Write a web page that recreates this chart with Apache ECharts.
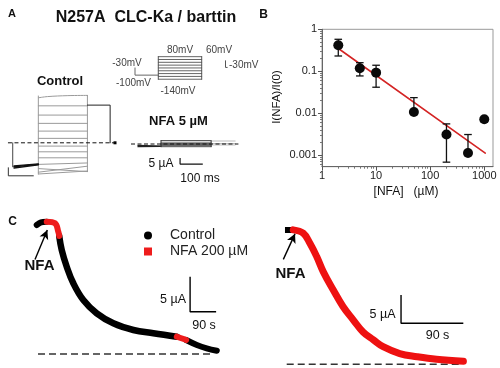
<!DOCTYPE html>
<html><head><meta charset="utf-8">
<script src="https://cdn.jsdelivr.net/npm/echarts@6/dist/echarts.min.js"></script>
<style>html,body{margin:0;padding:0;background:#fff}#c{width:500px;height:368px}</style>
</head><body><div id="c"></div>
<script>
// ================= DATA =================
// ---- Panel B: dose-response (log-log) ----
const nfaConc = [2, 5, 10, 50, 200, 500, 1000];                 // µM
const ratio   = [0.416, 0.118, 0.0926, 0.0107, 0.0031, 0.00112, 0.0072];
const errHigh = [0.578, 0.160, 0.139, 0.0235, 0.00556, 0.0031, 0.0078];
const errLow  = [0.231, 0.0773, 0.0416, null, 0.00068, null, 0.0062];
const fitConc  = [2.1, 1043];
const fitRatio = [0.334, 0.00112];
const xTicks = [1, 10, 100, 1000];
const yTicks = [0.001, 0.01, 0.1, 1];
const xTickLabels = ['1', '10', '100', '1000'];
const yTickLabels = ['0.001', '0.01', '0.1', '1'];

// ---- Panel A: voltage protocol (ms, mV) ----
const protoLevels = [-140, -112.5, -85, -57.5, -30, -2.5, 25, 52.5, 80];
const protoPulse  = [141.5, 358.5];
const protoHold   = [[25, -30], [25, -100], [141.5, -100]];
const protoTail   = [[477.5, 40], [477.5, -25], [486, -25]];

// ---- Panel A: control currents (ms, µA) ----
const ctrlPulse = [168.7, 384.6];
const ctrlStepStart = [37.5, 30.8, 23.1, 16.2, 9.75, 3.7, -2.75, -7.5, -12.5, -18, -21.5, -24.5, -26];
const ctrlStepEnd   = [39.5, 30.8, 23.1, 16.2, 9.75, 3.7, -2.75, -7.5, -12.5, -16.8, -24, -19.5, -23.5];
const ctrlTail  = [[384.6, 31.4], [484.6, 31.4], [484.6, 0]];
const ctrlPre   = [[56, 0], [56, -20]];
const ctrlPreTraces = [[[61.7, -20], [168.7, -18]], [[61.7, -19.2], [168.7, -17.6]], [[61.7, -21], [168.7, -18.4]]];
const ctrlCorner = [[36.7, -20.8], [36.7, -27.5], [146.7, -27.5]];
const ctrlZero  = [[35, 0], [506, 0]];

// ---- Panel A: NFA 5 µM currents (ms, µA) ----
const nfaPulse = [158.6, 378.9];
const nfaStepLevels = [2.75, 0.9, 0.3, -0.3, -0.9, -1.5, -2.25];
const nfaTailEnd = 484.6;
const nfaTailLevels = [2.5, 0.4, -0.8];
const nfaPreTraces = [[[57, -1.2], [158.6, -1.8]], [[57, -2.2], [158.6, -2.0]]];
const nfaZero = [[26.4, 0], [499, 0]];
const nfaScaleBar = {t0: 242.3, i0: -16.7, dt: 100, di: 5};

// ---- Panel C left: Control + NFA 200 µM (s, µA) ----
const c1Head  = [[23.2, 18.43], [38, 18.79], [57.8, 18.9]];
const c1Red1  = [[57.8, 18.9], [86.5, 18.67], [97.9, 17.47], [101, 16.86]];
const c1Main  = [[101, 16.86], [109.7, 14.86], [127, 12.47], [149.8, 10.1], [184.4, 7.71],
                 [230.8, 5.81], [288.2, 4.39], [357.4, 3.43], [426.6, 2.96], [507.6, 2.47]];
const c1Red2  = [[507.6, 2.47], [526, 2.21], [540, 2.0]];
const c1Tail  = [[540, 2.0], [577, 1.29], [611, 0.81], [646, 0.47]];
const c1Zero  = [[27.7, 0], [629, 0]];
const c1Arrow = [[17.3, 13.5], [59.9, 17.7]];
const c1ScaleBar = {t0: 553.6, i0: 6.04, dt: 90, di: 5};

// ---- Panel C right: NFA 200 µM (s, µA) ----
const c2Head = [[7.2, 23.7], [19.2, 23.7]];
const c2Red  = [[19.2, 23.7], [33.7, 23.1], [43.4, 21.3], [53, 19.0], [62.6, 16.3], [77, 13.1],
                [91, 10.2], [106, 7.8], [120, 5.7], [135, 4.3], [149, 3.1], [173, 1.9],
                [198, 1.34], [226, 0.88], [265, 0.53]];
const c2Zero  = [[9.7, 0], [260, 0]];
const c2Arrow = [[4.8, 18.5], [21.7, 23.0]];
const c2ScaleBar = {t0: 174.9, i0: 7.23, dt: 90, di: 5};

// ================= CHART =================
const FONT = '"Liberation Sans", Arial, sans-serif';
const chart = echarts.init(document.getElementById('c'), null, {renderer: 'canvas'});

function hx(grid, min, max) { return {type: 'value', gridIndex: grid, min, max, show: false}; }
function ln(ax, data, color, width, extra) {
  return Object.assign({
    type: 'line', xAxisIndex: ax, yAxisIndex: ax, data, symbol: 'none', showSymbol: false,
    silent: true, animation: false,
    lineStyle: {color, width, cap: 'round', join: 'round'}
  }, extra || {});
}
function bar(sb) { return [[sb.t0, sb.i0 + sb.di], [sb.t0, sb.i0], [sb.t0 + sb.dt, sb.i0]]; }
function arrowLine(ax, pts) {
  return {type: 'line', xAxisIndex: ax, yAxisIndex: ax, data: [], silent: true, animation: false,
    markLine: {silent: true, animation: false, symbol: ['none', 'arrow'], symbolSize: [7, 9],
      label: {show: false}, lineStyle: {color: '#000', width: 1.4, type: 'solid'},
      data: [[{coord: pts[0]}, {coord: pts[1]}]]}};
}

const minorX = [], minorY = [];
[1, 10, 100].forEach(d => { for (let k = 2; k <= 9; k++) minorX.push(d * k); });
[0.0001, 0.001, 0.01, 0.1].forEach(d => { for (let k = 2; k <= 9; k++) { const v = d * k; if (v > 0.00053 && v < 1) minorY.push(v); } });

const series = [];
// --- protocol (axis 1)
series.push(ln(1, protoHold, '#666', 1));
protoLevels.forEach(v => series.push(ln(1, [[protoPulse[0], v], [protoPulse[1], v]], '#666', 1)));
series.push(ln(1, [[protoPulse[0], protoLevels[0]], [protoPulse[0], protoLevels[protoLevels.length - 1]]], '#555', 1));
series.push(ln(1, [[protoPulse[1], protoLevels[0]], [protoPulse[1], protoLevels[protoLevels.length - 1]]], '#555', 1));
series.push(ln(1, protoTail, '#555', 1));
// --- control currents (axis 0)
ctrlStepStart.forEach((s, i) => {
  const e = ctrlStepEnd[i];
  const d = i === 0 ? [[ctrlPulse[0], s], [ctrlPulse[0] + 40, s + 1], [ctrlPulse[0] + 130, e - 0.2], [ctrlPulse[1], e]]
                    : [[ctrlPulse[0], s], [ctrlPulse[1], e]];
  series.push(ln(0, d, '#9a9a9a', 1, {smooth: i === 0 ? 0.4 : false}));
});
series.push(ln(0, [[ctrlPulse[0], -26], [ctrlPulse[0], 39]], '#999', 1));
series.push(ln(0, [[ctrlPulse[1], -24], [ctrlPulse[1], 39.5]], '#999', 1));
series.push(ln(0, ctrlTail, '#222', 1));
series.push(ln(0, ctrlPre, '#444', 1));
ctrlPreTraces.forEach(d => series.push(ln(0, d, '#111', 1.4)));
series.push(ln(0, ctrlCorner, '#333', 1));
series.push(ln(0, ctrlZero, '#111', 1, {lineStyle: {color: '#111', width: 1, type: [4, 2.5]}}));
series.push({type: 'scatter', xAxisIndex: 0, yAxisIndex: 0, data: [ctrlZero[1]], symbol: 'rect', symbolSize: 3,
  itemStyle: {color: '#000', opacity: 1}, silent: true, animation: false});
// --- NFA 5 µM currents (axis 2)
nfaPreTraces.forEach(d => series.push(ln(2, d, '#222', 1.2)));
nfaStepLevels.forEach((v, i) => series.push(ln(2, [[nfaPulse[0], v], [nfaPulse[1], v]], i === 0 ? '#333' : '#555', 1)));
nfaTailLevels.forEach(v => series.push(ln(2, [[nfaPulse[1], v], [nfaTailEnd, v]], '#bbb', 1)));
series.push(ln(2, [[nfaPulse[0], -2.25], [nfaPulse[0], 2.75]], '#333', 1));
series.push(ln(2, [[nfaPulse[1], -2.25], [nfaPulse[1], 2.75]], '#333', 1));
series.push(ln(2, nfaZero, '#111', 1, {lineStyle: {color: '#111', width: 1, type: [4, 2.5]}}));
series.push(ln(2, bar(nfaScaleBar), '#111', 1.2, {lineStyle: {color: '#111', width: 1.2, cap: 'butt'}}));
// --- Panel B (axis 3)
series.push(ln(3, fitConc.map((c, i) => [c, fitRatio[i]]), '#d42424', 1.6, {z: 2}));
series.push({type: 'custom', xAxisIndex: 3, yAxisIndex: 3, silent: true, animation: false, z: 3,
  data: nfaConc.map((c, i) => [c, errLow[i] == null ? ratio[i] : errLow[i], errHigh[i] == null ? ratio[i] : errHigh[i],
                               errLow[i] == null ? 0 : 1, errHigh[i] == null ? 0 : 1]),
  renderItem(params, api) {
    const x = api.value(0);
    const lo = api.coord([x, api.value(1)]), hi = api.coord([x, api.value(2)]);
    const w = 3.8, st = {stroke: '#111', lineWidth: 1.3};
    const ch = [{type: 'line', shape: {x1: lo[0], y1: lo[1], x2: hi[0], y2: hi[1]}, style: st}];
    if (api.value(3)) ch.push({type: 'line', shape: {x1: lo[0] - w, y1: lo[1], x2: lo[0] + w, y2: lo[1]}, style: st});
    if (api.value(4)) ch.push({type: 'line', shape: {x1: hi[0] - w, y1: hi[1], x2: hi[0] + w, y2: hi[1]}, style: st});
    return {type: 'group', children: ch};
  }});
series.push({type: 'scatter', xAxisIndex: 3, yAxisIndex: 3, z: 4, silent: true, animation: false,
  data: nfaConc.map((c, i) => [c, ratio[i]]), symbol: 'circle', symbolSize: 10,
  itemStyle: {color: '#0a0a0a', opacity: 1, borderWidth: 0}});
// --- Panel C left (axis 5)
series.push(ln(5, c1Zero, '#333', 1.5, {lineStyle: {color: '#333', width: 1.5, type: [7, 4]}}));
series.push(ln(5, c1Head, '#000', 6, {name: 'Control', smooth: 0.3}));
series.push(ln(5, c1Main, '#000', 6.5, {name: 'Control', smooth: 0.4}));
series.push(ln(5, c1Tail, '#000', 6, {name: 'Control', smooth: 0.4}));
series.push(ln(5, c1Red1, '#ee1c1c', 6, {name: 'NFA 200 µM', smooth: 0.4}));
series.push(ln(5, c1Red2, '#ee1c1c', 6, {name: 'NFA 200 µM', smooth: 0.3}));
series.push(ln(5, bar(c1ScaleBar), '#000', 1.4, {lineStyle: {color: '#000', width: 1.4, cap: 'butt'}}));
series.push(arrowLine(5, c1Arrow));
// --- Panel C right (axis 6)
series.push(ln(6, c2Zero, '#333', 1.5, {lineStyle: {color: '#333', width: 1.5, type: [7, 4]}}));
series.push(ln(6, c2Head, '#000', 6, {lineStyle: {color: '#000', width: 6, cap: 'butt'}}));
series.push(ln(6, c2Red, '#ee1111', 7, {smooth: 0.4}));
series.push(ln(6, bar(c2ScaleBar), '#000', 1.4, {lineStyle: {color: '#000', width: 1.4, cap: 'butt'}}));
series.push(arrowLine(6, c2Arrow));

function T(text, x, y, size, opts) {
  const o = opts || {};
  return {type: 'text', x, y, rotation: o.rot || 0, silent: true, z: 10,
    style: {text, fill: o.color || '#111', fontSize: size, fontWeight: o.bold ? 'bold' : 'normal', fontFamily: FONT,
      align: o.align || 'center', verticalAlign: 'middle'}};
}

const option = {
  animation: false,
  textStyle: {fontFamily: FONT},
  grid: [
    {left: 0, top: 90, width: 125, height: 90, outerBoundsMode: 'none'},
    {left: 130, top: 50, width: 120, height: 40, outerBoundsMode: 'none'},
    {left: 125, top: 120, width: 125, height: 60, outerBoundsMode: 'none'},
    {left: 322, top: 29.3, width: 171, height: 137.4, show: true, borderColor: '#999', borderWidth: 1, outerBoundsMode: 'none'},
    {left: 30, top: 214, width: 190, height: 147, outerBoundsMode: 'none'},
    {left: 280, top: 214, width: 200, height: 153.7, outerBoundsMode: 'none'}
  ],
  xAxis: [
    hx(0, 0, 550), hx(1, 0, 600), hx(2, 0, 550),
    {type: 'log', gridIndex: 3, min: 1, max: 1450, position: 'bottom',
      axisLine: {show: true, lineStyle: {color: '#666', width: 1}},
      axisTick: {show: true, length: 4, customValues: xTicks, lineStyle: {color: '#555'}},
      axisLabel: {customValues: xTicks, color: '#222', fontSize: 11, margin: 4,
        formatter: v => xTickLabels[Math.round(Math.log10(v))]},
      splitLine: {show: false}, minorTick: {show: false}},
    {type: 'log', gridIndex: 3, min: 1, max: 1450, position: 'bottom',
      axisLine: {show: false}, axisLabel: {show: false}, splitLine: {show: false},
      axisTick: {show: true, length: 2, customValues: minorX, lineStyle: {color: '#777'}}},
    hx(4, 0, 657), hx(5, 0, 289)
  ],
  yAxis: [
    hx(0, -31, 44), hx(1, -245, 145), hx(2, -30, 20),
    {type: 'log', gridIndex: 3, min: 0.00053, max: 1, position: 'left',
      axisLine: {show: true, lineStyle: {color: '#666', width: 1}},
      axisTick: {show: true, length: 4, customValues: yTicks, lineStyle: {color: '#555'}},
      axisLabel: {customValues: yTicks, color: '#222', fontSize: 11, margin: 5,
        formatter: v => yTickLabels[Math.round(Math.log10(v)) + 3]},
      splitLine: {show: false}},
    {type: 'log', gridIndex: 3, min: 0.00053, max: 1, position: 'left',
      axisLine: {show: false}, axisLabel: {show: false}, splitLine: {show: false},
      axisTick: {show: true, length: 2, customValues: minorY, lineStyle: {color: '#777'}}},
    hx(4, -1, 20), hx(5, -0.6, 26.5)
  ],
  legend: {
    left: 139, top: 223.5, orient: 'vertical', itemGap: 2, itemWidth: 8, itemHeight: 8,
    selectedMode: false,
    textStyle: {fontSize: 14, color: '#222', fontFamily: FONT, padding: [0, 0, 0, 13]},
    data: [
      {name: 'Control', icon: 'circle', itemStyle: {color: '#000', borderWidth: 0}},
      {name: 'NFA 200 µM', icon: 'rect', itemStyle: {color: '#ee1c1c', borderWidth: 0}}
    ]
  },
  graphic: [
    T('A', 12, 14, 11, {bold: true}),
    T('N257A  CLC-Ka / barttin', 146, 18, 16, {bold: true}),
    T('B', 263.5, 14.5, 12, {bold: true}),
    T('C', 12.7, 221.7, 12, {bold: true}),
    T('Control', 60, 81, 13, {bold: true}),
    T('NFA 5 µM', 178.5, 121, 13, {bold: true}),
    T('-30mV', 127, 63.3, 10, {color: '#444'}),
    T('-100mV', 133.5, 83.5, 10, {color: '#444'}),
    T('80mV', 180, 50, 10, {color: '#444'}),
    T('60mV', 219, 50, 10, {color: '#444'}),
    T('-140mV', 178, 91.7, 10, {color: '#444'}),
    T('-30mV', 229, 65, 10, {color: '#444', align: 'left'}),
    T('5 µA', 161, 164, 12),
    T('100 ms', 200, 178.5, 12),
    T('NFA', 39.5, 265.5, 15, {bold: true}),
    T('5 µA', 186, 300, 12.5, {align: 'right'}),
    T('90 s', 204, 326, 12.5),
    T('NFA', 290.5, 274, 15, {bold: true}),
    T('5 µA', 395.5, 314.5, 12.5, {align: 'right'}),
    T('90 s', 437.5, 336, 12.5),
    T('I(NFA)/I(0)', 277, 97, 11.5, {rot: Math.PI / 2}),
    T('[NFA]   (µM)', 406, 192, 12)
  ],
  series
};
chart.setOption(option);
</script>
</body></html>
